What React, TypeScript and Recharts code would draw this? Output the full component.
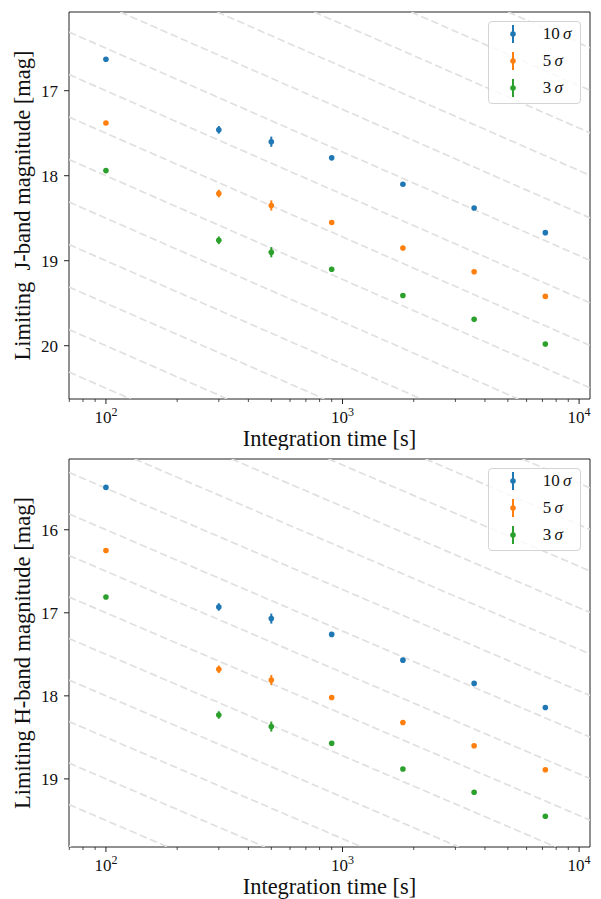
import {
  ScatterChart, Scatter, XAxis, YAxis, ErrorBar, ReferenceLine, ReferenceArea, Label
} from 'recharts';

// integration times [s]
const times = [100, 300, 500, 900, 1800, 3600, 7200];

// J band limiting magnitudes
const jMag10 = [16.63, 17.46, 17.60, 17.79, 18.10, 18.38, 18.67];
const jMag5 = [17.38, 18.21, 18.35, 18.55, 18.85, 19.13, 19.42];
const jMag3 = [17.94, 18.76, 18.90, 19.10, 19.41, 19.69, 19.98];

// H band limiting magnitudes
const hMag10 = [15.49, 16.93, 17.07, 17.26, 17.57, 17.85, 18.14];
const hMag5 = [16.25, 17.68, 17.81, 18.02, 18.32, 18.60, 18.89];
const hMag3 = [16.81, 18.23, 18.37, 18.57, 18.88, 19.16, 19.45];

const magErr = [0.01, 0.045, 0.06, 0.012, 0.01, 0.01, 0.01];

const sigmaLabels = ['10', '5', '3'];
const colors = ['#1f77b4', '#ff7f0e', '#2ca02c'];

// dashed guides: mag = offset + slope * log10(t / 100)
const guideOffsets = [12.5, 13, 13.5, 14, 14.5, 15, 15.5, 16, 16.5, 17, 17.5, 18, 18.5, 19, 19.5, 20, 20.5, 21];
const guideSlope = 1.22;

const xDomain = [69.8, 11120];
const xTicks = [70, 80, 90, 100, 200, 300, 400, 500, 600, 700, 800, 900, 1000,
  2000, 3000, 4000, 5000, 6000, 7000, 8000, 9000, 10000];

const font = "'Liberation Serif', 'Times New Roman', serif";

const toRows = (mags: number[]) => times.map((t, i) => ({ t, mag: mags[i], err: magErr[i] }));

const LogTick = (props: any) => {
  const { x, y, payload } = props;
  const e = Math.log10(payload.value);
  const major = Math.abs(e - Math.round(e)) < 1e-6;
  return (
    <g>
      <line x1={x} x2={x} y1={y} y2={y + (major ? 5 : 3)} stroke="#222" strokeWidth={major ? 1 : 0.8} />
      {major && (
        <text x={x} y={y + 24} textAnchor="middle" fontFamily={font} fontSize={17} fill="#111">
          10<tspan dy={-7} fontSize={12}>{Math.round(e)}</tspan>
        </text>
      )}
    </g>
  );
};

const guideSegment = (m0: number, yMin: number, yMax: number) => {
  const lx0 = Math.log10(xDomain[0]);
  const lx1 = Math.log10(xDomain[1]);
  // clip to the visible magnitude range
  const a = Math.max(lx0, 2 + (yMin - m0) / guideSlope);
  const b = Math.min(lx1, 2 + (yMax - m0) / guideSlope);
  if (b <= a) return null;
  return [
    { x: Math.pow(10, a), y: m0 + guideSlope * (a - 2) },
    { x: Math.pow(10, b), y: m0 + guideSlope * (b - 2) },
  ];
};

const LegendBox = ({ top }: { top: number }) => (
  <div style={{
    position: 'absolute', left: 487.7, top, width: 93, height: 83, boxSizing: 'border-box',
    border: '1px solid #d4d4d4', borderRadius: 4, background: 'rgba(255,255,255,0.8)',
    fontFamily: font, fontSize: 17, color: '#111',
  }}>
    {sigmaLabels.map((s, i) => (
      <div key={s} style={{ position: 'absolute', left: 0, top: 12.3 + i * 26.7 - 10, height: 20, width: '100%' }}>
        <svg width={14} height={20} style={{ position: 'absolute', left: 17.3, top: 0 }}>
          <line x1={7} x2={7} y1={1} y2={19} stroke={colors[i]} strokeWidth={2} />
          <circle cx={7} cy={10} r={2.8} fill={colors[i]} />
        </svg>
        <span style={{ position: 'absolute', left: 54, top: 0, lineHeight: '20px', whiteSpace: 'pre' }}>
          {s}{'\u2009'}<i>σ</i>
        </span>
      </div>
    ))}
  </div>
);

type PanelProps = {
  height: number;
  top: number;
  axisH: number;
  yDomain: number[];
  yTicks: number[];
  yLabel: string;
  series: number[][];
  labelOffset: number;
};

const Panel = ({ height, top, axisH, yDomain, yTicks, yLabel, series, labelOffset }: PanelProps) => {
  const [yMin, yMax] = yDomain;
  return (
    <div style={{ position: 'relative', width: 601, height }}>
      <ScatterChart width={601} height={height} margin={{ top, right: 11, bottom: 0, left: 0 }}>
        <XAxis
          dataKey="t" type="number" scale="log" domain={xDomain} allowDataOverflow
          ticks={xTicks} interval={0} tick={<LogTick />} tickLine={false}
          tickSize={0} tickMargin={0} axisLine={false} height={axisH}
        >
          <Label
            value="Integration time [s]" position="insideBottom" offset={labelOffset}
            style={{ fontFamily: font, fontSize: 22.5, fill: '#111' }}
          />
        </XAxis>
        <YAxis
          dataKey="mag" type="number" reversed domain={yDomain} allowDataOverflow
          ticks={yTicks} width={69} tickSize={5} tickMargin={6}
          tickLine={{ stroke: '#222' }} axisLine={false}
          tick={{ fill: '#111', fontSize: 17, fontFamily: font }}
        >
          <Label
            value={yLabel} angle={-90} position="insideLeft" offset={22}
            style={{ fontFamily: font, fontSize: 22.5, fill: '#111', textAnchor: 'middle' }}
          />
        </YAxis>
        {guideOffsets.map((m0) => {
          const seg = guideSegment(m0, yMin, yMax);
          if (!seg) return null;
          return (
            <ReferenceLine
              key={m0} segment={seg} ifOverflow="hidden"
              stroke="#e0e0e0" strokeWidth={1.7} strokeDasharray="7.5 3.5"
            />
          );
        })}
        {series.map((mags, i) => (
          <Scatter
            key={i} data={toRows(mags)} fill={colors[i]} isAnimationActive={false}
            shape={(p: any) => <circle cx={p.cx} cy={p.cy} r={2.8} fill={colors[i]} />}
          >
            <ErrorBar dataKey="err" direction="y" width={0} stroke={colors[i]} strokeWidth={2} />
          </Scatter>
        ))}
        <ReferenceArea
          x1={xDomain[0]} x2={xDomain[1]} y1={yMin} y2={yMax} ifOverflow="visible"
          fill="none" fillOpacity={0} stroke="#222" strokeWidth={1} strokeOpacity={1}
        />
      </ScatterChart>
      <LegendBox top={top + 9} />
    </div>
  );
};

export default function App() {
  return (
    <div style={{
      position: 'absolute', left: 0, top: 0, width: 601, height: 899,
      background: '#fff', fontFamily: font,
    }}>
      <Panel
        height={450} top={12} axisH={51} yDomain={[16.074, 20.627]} yTicks={[17, 18, 19, 20]}
        yLabel={'Limiting\u00a0 J-band magnitude [mag]'} series={[jMag10, jMag5, jMag3]} labelOffset={4}
      />
      <Panel
        height={449} top={9} axisH={52} yDomain={[15.148, 19.82]} yTicks={[16, 17, 18, 19]}
        yLabel="Limiting H-band magnitude [mag]" series={[hMag10, hMag5, hMag3]} labelOffset={5}
      />
    </div>
  );
}
